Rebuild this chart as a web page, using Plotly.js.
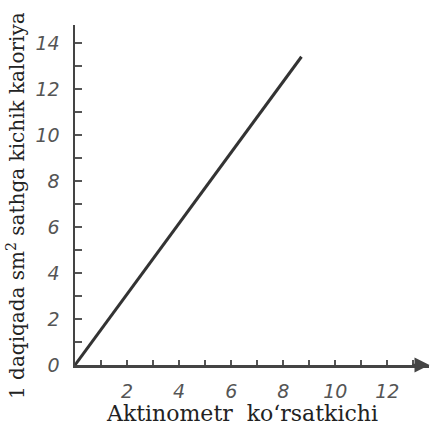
<!DOCTYPE html>
<html><head><meta charset="utf-8">
<script src="https://cdn.plot.ly/plotly-3.0.1.min.js"></script>
<style>html,body{margin:0;padding:0;background:#fff}#c{width:432px;height:425px}</style>
</head><body><div id="c"></div>
<script>
const lineX = [0, 8.7];
const lineY = [0, 13.4];
const xTickVals = [2, 4, 6, 8, 10, 12];
const xTickText = ["2", "4", "6", "8", "10", "12"];
const yTickVals = [0, 2, 4, 6, 8, 10, 12, 14];
const yTickText = ["0", "2", "4", "6", "8", "10", "12", "14"];
const xTitle = "Aktinometr  ko‘rsatkichi";
const yTitle = "1 daqiqada sm<sup>2</sup> sathga kichik kaloriya";

const tickFont = {family: "DejaVu Sans", size: 19, color: "#555", style: "italic"};

Plotly.newPlot("c", [{
  x: lineX, y: lineY, type: "scatter", mode: "lines",
  line: {color: "#333", width: 3}, showlegend: false, hoverinfo: "skip"
}], {
  width: 432, height: 425,
  margin: {l: 75, r: 3, t: 25, b: 60},
  paper_bgcolor: "#fff", plot_bgcolor: "#fff",
  xaxis: {
    range: [0, 13.6], showgrid: false, zeroline: false,
    showline: true, linecolor: "#444", linewidth: 2.5,
    tickmode: "array", tickvals: xTickVals, ticktext: xTickText,
    ticks: "inside", ticklen: 5, tickwidth: 2, tickcolor: "#555",
    minor: {dtick: 1, tick0: 0, ticks: "inside", ticklen: 5, tickwidth: 2, tickcolor: "#555", showgrid: false},
    tickfont: tickFont, ticklabelstandoff: 8
  },
  yaxis: {
    range: [0, 14.78], showgrid: false, zeroline: false,
    showline: true, linecolor: "#444", linewidth: 2.5,
    tickmode: "array", tickvals: yTickVals, ticktext: yTickText,
    ticks: "inside", ticklen: 7, tickwidth: 2, tickcolor: "#555",
    minor: {dtick: 1, tick0: 0, ticks: "inside", ticklen: 7, tickwidth: 2, tickcolor: "#555", showgrid: false},
    tickfont: tickFont, ticklabelstandoff: 9
  },
  annotations: [
    {x: 13.62, y: 0, ax: 12.9, ay: 0, xref: "x", yref: "y", axref: "x", ayref: "y",
     showarrow: true, arrowhead: 2, arrowsize: 1.2, arrowwidth: 2.5, arrowcolor: "#444", text: ""},
    {text: xTitle, xref: "paper", yref: "paper", x: 0.4718, y: -0.1412, xanchor: "center", yanchor: "middle",
     showarrow: false, font: {family: "DejaVu Serif", size: 22, color: "#222"}},
    {text: yTitle, xref: "paper", yref: "paper", x: -0.1667, y: 0.4706, xanchor: "center", yanchor: "middle",
     textangle: -90, showarrow: false, font: {family: "DejaVu Serif", size: 20, color: "#222"}}
  ]
}, {staticPlot: true, displayModeBar: false});
</script></body></html>
